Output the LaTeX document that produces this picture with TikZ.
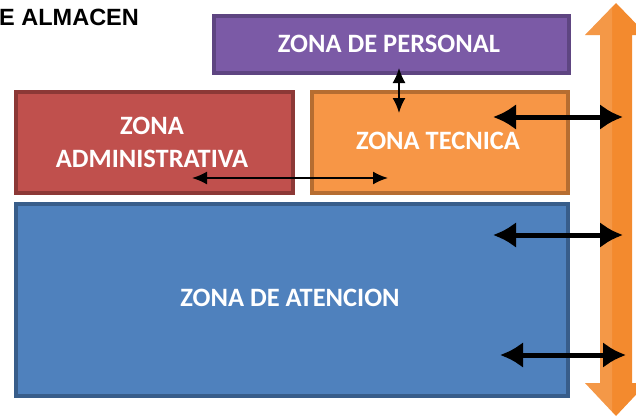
\documentclass[tikz,border=0pt]{standalone}
\usepackage{fontspec}
\setmainfont{Carlito}
\newfontfamily\arialf{Liberation Sans}
\usetikzlibrary{arrows.meta,shadows}
\definecolor{purpfill}{HTML}{7B5AA6}
\definecolor{purpdraw}{HTML}{5E4581}
\definecolor{redfill}{HTML}{C0504D}
\definecolor{reddraw}{HTML}{8C3836}
\definecolor{orfill}{HTML}{F79646}
\definecolor{ordraw}{HTML}{B66D31}
\definecolor{blfill}{HTML}{4F81BD}
\definecolor{bldraw}{HTML}{385D8A}
\definecolor{bigarrow}{HTML}{F38A2E}
\tikzset{
  zone/.style={line width=4pt, font=\fontsize{26.5}{33}\selectfont\bfseries, text=white, align=center},
  thinarrow/.style={{Latex[length=15pt,width=13pt]}-{Latex[length=15pt,width=13pt]}, line width=1.8pt, black},
  thickarrow/.style={{Latex[length=23pt,width=26pt]}-{Latex[length=23pt,width=26pt]}, line width=5pt, black},
}
\begin{document}
\begin{tikzpicture}[x=1pt,y=-1pt]
\useasboundingbox (0,0) rectangle (636,418);
% big orange double arrow
\fill[bigarrow] (616,3) -- (647,35) -- (632,35) -- (632,383) -- (647,383) -- (616,416) -- (585,383) -- (600,383) -- (600,35) -- (585,35) -- cycle;
\fill[white,opacity=0.12] (616,3) -- (585,35) -- (600,35) -- (600,383) -- (585,383) -- (616,416) -- (612,416) -- (612,3) -- cycle;
% boxes
\node[zone, draw=purpdraw, fill=purpfill, minimum width=355pt, minimum height=57pt, anchor=north west] (pers) at (211.5,13.5) {};
\node[zone, draw=reddraw, fill=redfill, minimum width=277pt, minimum height=101pt, anchor=north west] (adm) at (13.5,89.5) {};
\node[zone, draw=ordraw, fill=orfill, minimum width=256pt, minimum height=101pt, anchor=north west] (tec) at (309.5,89.5) {};
\node[zone, draw=bldraw, fill=blfill, minimum width=552pt, minimum height=192pt, anchor=north west] (aten) at (13.5,201.5) {};
\node[zone] (perstxt) at (389,44) {ZONA DE PERSONAL};
\node[zone] (admtxt) at (152,142) {ZONA\\ADMINISTRATIVA};
\node[zone] (tectxt) at (438,141) {ZONA TECNICA};
\node[zone] (atentxt) at (290,298) {ZONA DE ATENCION};
% title
\node[font=\arialf\fontsize{23.5}{26}\selectfont\bfseries, anchor=west, inner sep=0pt] (title) at (-1,17) {E ALMACEN};
% coordinates for arrows
\coordinate (v1) at (399,68);
\coordinate (v2) at (399,113);
\coordinate (h1) at (192,178);
\coordinate (h2) at (388,178);
\coordinate (a1) at (493,117);
\coordinate (a2) at (623,117);
\coordinate (b1) at (493,235);
\coordinate (b2) at (623,235);
\coordinate (c1) at (500,355);
\coordinate (c2) at (626,355);
\draw[thinarrow] (v1) -- (v2);
\draw[thinarrow] (h1) -- (h2);
\draw[thickarrow] (a1) -- (a2);
\draw[thickarrow] (b1) -- (b2);
\draw[thickarrow] (c1) -- (c2);
\end{tikzpicture}
\end{document}
